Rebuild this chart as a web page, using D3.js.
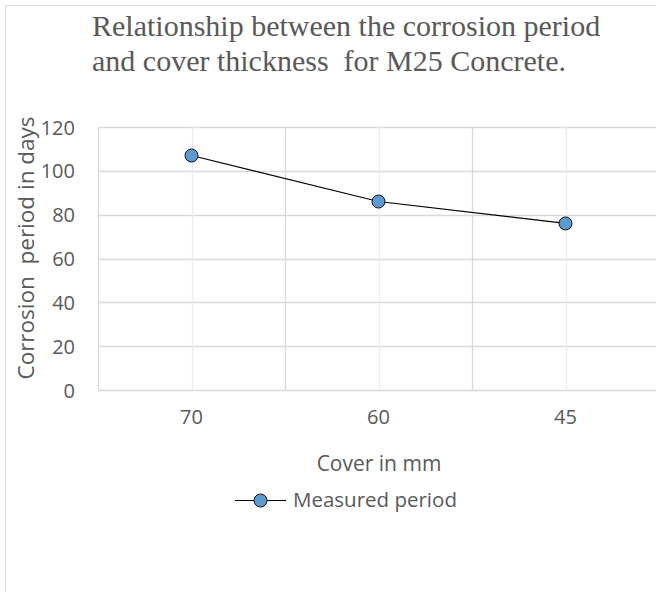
<!DOCTYPE html>
<html>
<head>
<meta charset="utf-8">
<script src="https://cdn.jsdelivr.net/npm/d3@7/dist/d3.min.js"></script>
<style>
  html, body { margin: 0; padding: 0; background: #fff; overflow: hidden; }
  svg { display: block; }
  text { white-space: pre; }
</style>
</head>
<body>
<script>
// Corrosion period vs cover thickness, M25 concrete
const categories = ["70", "60", "45"];
const periodDays = [107, 86, 76];
const yTicks = [0, 20, 40, 60, 80, 100, 120];
const titleLines = ["Relationship between the corrosion period", "and cover thickness  for M25 Concrete."];
const seriesName = "Measured period";

const W = 656, H = 592;
const plot = { left: 98, top: 127, bottom: 390, bandWidth: 187 };
const textColor = "#595959";
const gridColor = "#d9d9d9";
const sansFont = "'Open Sans', 'Noto Sans', sans-serif";

const svg = d3.select("body").append("svg").attr("width", W).attr("height", H);

// outer chart frame (extends past the window on the right and bottom)
svg.append("rect")
  .attr("x", 5.5).attr("y", 5.5)
  .attr("width", W + 20).attr("height", H + 20)
  .attr("fill", "#fff").attr("stroke", gridColor).attr("stroke-width", 1);

const x = d3.scaleBand()
  .domain(categories)
  .range([plot.left, plot.left + plot.bandWidth * categories.length])
  .paddingInner(0).paddingOuter(0);

const y = d3.scaleLinear().domain([0, 120]).range([plot.bottom, plot.top]);

const xRight = plot.left + plot.bandWidth * categories.length;

// horizontal gridlines
svg.append("g")
  .selectAll("line")
  .data(yTicks)
  .join("line")
  .attr("x1", plot.left).attr("x2", xRight)
  .attr("y1", d => Math.round(y(d)) + 0.5).attr("y2", d => Math.round(y(d)) + 0.5)
  .attr("stroke", gridColor).attr("stroke-width", 1.3);

// vertical gridlines at band edges
const edges = categories.map(c => x(c)).concat([xRight]);
svg.append("g")
  .selectAll("line")
  .data(edges)
  .join("line")
  .attr("x1", d => Math.round(d) + 0.5).attr("x2", d => Math.round(d) + 0.5)
  .attr("y1", plot.top).attr("y2", plot.bottom)
  .attr("stroke", gridColor).attr("stroke-width", 1.3);

// lighter vertical gridlines at category centres
svg.append("g")
  .selectAll("line")
  .data(categories)
  .join("line")
  .attr("x1", d => Math.round(x(d) + x.bandwidth() / 2) + 0.5)
  .attr("x2", d => Math.round(x(d) + x.bandwidth() / 2) + 0.5)
  .attr("y1", plot.top).attr("y2", plot.bottom)
  .attr("stroke", "#ececec").attr("stroke-width", 1.3);

// y axis labels
const yAxis = d3.axisLeft(y).tickValues(yTicks).tickSize(0).tickPadding(0);
const gy = svg.append("g").attr("transform", `translate(${plot.left - 23},0)`).call(yAxis)
  .attr("font-size", null).attr("font-family", null);
gy.select(".domain").remove();
gy.selectAll("text")
  .attr("fill", textColor)
  .attr("font-family", sansFont)
  .attr("font-size", 20)
  .attr("dy", "0.35em");

// x axis labels
const xAxis = d3.axisBottom(x).tickSize(0).tickPadding(0);
const gx = svg.append("g").attr("transform", `translate(0,${plot.bottom + 22})`).call(xAxis)
  .attr("font-size", null).attr("font-family", null);
gx.select(".domain").remove();
gx.selectAll("text")
  .attr("fill", textColor)
  .attr("font-family", sansFont)
  .attr("font-size", 20)
  .attr("dy", "0.62em");

// title
svg.append("g")
  .selectAll("text")
  .data(titleLines)
  .join("text")
  .attr("x", 92)
  .attr("y", (d, i) => 36 + i * 35)
  .attr("fill", textColor)
  .attr("font-family", "'Liberation Serif', 'Times New Roman', serif")
  .attr("font-size", 30)
  .text(d => d);

// axis titles
svg.append("text")
  .attr("transform", `translate(34,248) rotate(-90)`)
  .attr("text-anchor", "middle")
  .attr("fill", textColor)
  .attr("font-family", sansFont)
  .attr("font-size", 22.5)
  .text("Corrosion  period in days");

svg.append("text")
  .attr("x", 379).attr("y", 471)
  .attr("text-anchor", "middle")
  .attr("fill", textColor)
  .attr("font-family", sansFont)
  .attr("font-size", 21)
  .text("Cover in mm");

// series line and markers
const cx = c => x(c) + x.bandwidth() / 2;
const pts = categories.map((c, i) => [cx(c), y(periodDays[i])]);

svg.append("path")
  .attr("d", d3.line()(pts))
  .attr("fill", "none")
  .attr("stroke", "#000")
  .attr("stroke-width", 1.2);

svg.append("g")
  .selectAll("circle")
  .data(pts)
  .join("circle")
  .attr("cx", d => d[0]).attr("cy", d => d[1])
  .attr("r", 6.5)
  .attr("fill", "#5b9bd5")
  .attr("stroke", "#111").attr("stroke-width", 1);

// legend
const leg = svg.append("g").attr("transform", "translate(235,500)");
leg.append("line").attr("x1", 0).attr("x2", 51).attr("y1", 0.5).attr("y2", 0.5)
  .attr("stroke", "#000").attr("stroke-width", 1.2);
leg.append("circle").attr("cx", 25.5).attr("cy", 0.5).attr("r", 6.5)
  .attr("fill", "#5b9bd5").attr("stroke", "#111").attr("stroke-width", 1);
leg.append("text").attr("x", 58).attr("y", 0).attr("dy", "0.35em")
  .attr("fill", textColor)
  .attr("font-family", sansFont)
  .attr("font-size", 20.5)
  .text(seriesName);
</script>
</body>
</html>
